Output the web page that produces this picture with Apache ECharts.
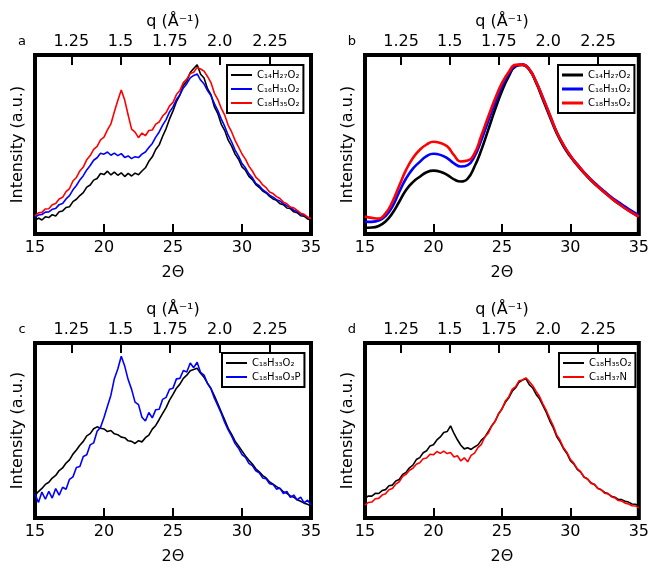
<!DOCTYPE html>
<html>
<head>
<meta charset="utf-8">
<script src="https://cdn.jsdelivr.net/npm/echarts@6/dist/echarts.min.js"></script>
<style>
  html, body { margin: 0; padding: 0; background: #fff; }
  #chart { width: 652px; height: 566px; }
</style>
</head>
<body>
<div id="chart"></div>
<script>
// 2theta sample grids (degrees)
const twoTheta = Array.from({ length: 81 }, (_, i) => 15 + i * 0.25)
const twoThetaB = Array.from({ length: 41 }, (_, i) => 15 + i * 0.5)

// top axis ticks, q in 1/angstrom
const qValues = [1.25, 1.5, 1.75, 2.0, 2.25]
const qLabels = ['1.25', '1.5', '1.75', '2.0', '2.25']
const lambda = 1.5406

// panel a (raw, noisy)
const aC14 = [7.5, 8.9, 7.8, 9.6, 9.2, 10.8, 10.1, 12.4, 12.9, 14.8, 15.2, 18.1, 19.4, 21.5, 23.1, 26.2, 27.4, 30.1, 31.0, 33.8,
  33.2, 35.1, 33.0, 34.6, 32.8, 34.2, 32.1, 33.9, 32.4, 34.0, 33.1, 35.2, 37.0, 40.6, 43.1, 47.2, 49.8, 54.6, 58.9, 64.3,
  68.8, 74.0, 77.6, 83.1, 85.4, 90.2, 92.5, 94.6, 89.3, 87.1, 81.2, 77.9, 71.0, 67.2, 61.3, 57.8, 52.4, 49.1, 44.6, 41.8,
  37.5, 35.6, 32.2, 30.4, 27.6, 26.1, 24.0, 22.9, 21.0, 19.6, 18.8, 16.9, 16.4, 14.5, 14.2, 12.4, 11.9, 10.2, 10.0, 8.4, 7.9]
const aC16 = [9.4, 10.6, 10.9, 12.2, 12.3, 13.8, 14.3, 16.4, 17.0, 19.6, 21.4, 24.7, 27.1, 30.2, 32.6, 35.8, 38.3, 41.2, 42.6, 45.1,
  44.6, 45.8, 44.0, 45.2, 43.8, 44.9, 42.8, 43.6, 42.1, 43.2, 42.7, 44.6, 45.8, 48.3, 50.6, 54.1, 57.0, 60.8, 63.9, 68.2,
  71.0, 75.1, 77.8, 81.6, 84.0, 87.2, 88.6, 89.4, 86.0, 83.8, 80.1, 77.3, 72.8, 69.0, 64.2, 60.1, 55.2, 51.4, 46.9, 43.5,
  39.4, 37.0, 33.6, 31.5, 28.3, 27.0, 24.7, 23.4, 21.7, 20.6, 19.2, 18.4, 17.0, 15.8, 14.9, 13.3, 12.6, 11.2, 10.6, 9.3, 8.8]
const aC18 = [10.2, 11.8, 12.1, 14.0, 14.1, 16.3, 17.0, 19.6, 20.5, 23.7, 25.4, 29.6, 31.6, 35.2, 37.4, 41.5, 43.8, 47.3, 48.9, 52.6,
  54.1, 58.2, 61.5, 68.3, 74.6, 80.4, 74.8, 66.5, 58.6, 56.9, 53.8, 56.4, 54.9, 57.8, 58.1, 61.4, 62.6, 65.9, 67.8, 71.6,
  73.5, 77.9, 80.2, 84.6, 86.5, 89.7, 90.4, 93.1, 92.2, 91.0, 88.0, 84.6, 78.6, 75.1, 70.2, 66.4, 60.7, 57.0, 52.3, 48.6,
  44.7, 41.8, 37.9, 35.2, 31.8, 30.0, 27.4, 25.9, 23.5, 22.6, 20.9, 19.8, 17.8, 16.9, 15.1, 14.6, 13.2, 11.6, 11.0, 9.4, 8.7]

// panel b (smoothed)
const bC14 = [3.5, 3.6, 4.5, 7.0, 11.6, 18.0, 24.6, 29.0, 32.0, 34.5, 35.4, 34.8, 33.0, 30.5, 29.3, 31.0, 37.7, 47.0, 58.2, 69.5,
  79.7, 88.0, 93.7, 94.5, 91.8, 84.5, 75.0, 65.5, 56.3, 49.0, 43.3, 38.5, 34.0, 30.0, 26.5, 23.2, 20.0, 17.0, 14.4, 12.0, 9.7]
const bC16 = [6.9, 6.8, 7.5, 10.0, 15.3, 23.5, 31.0, 36.5, 40.3, 43.5, 44.8, 44.2, 42.4, 39.5, 37.7, 38.5, 43.3, 52.5, 63.0, 73.0,
  82.5, 89.5, 94.0, 94.6, 92.0, 85.0, 76.0, 66.5, 57.0, 49.7, 43.7, 39.0, 34.5, 30.5, 27.0, 23.7, 20.5, 17.8, 15.3, 12.8, 10.6]
const bC18 = [9.7, 9.0, 8.6, 11.5, 18.0, 27.0, 35.8, 42.5, 47.0, 50.0, 51.5, 50.8, 49.0, 44.0, 40.5, 41.0, 45.0, 55.0, 65.5, 75.5,
  84.3, 90.5, 94.5, 94.6, 92.0, 85.0, 76.0, 66.5, 57.0, 49.7, 43.7, 38.8, 34.3, 30.2, 26.5, 23.2, 20.0, 17.0, 14.4, 12.0, 9.7]

// panel c (raw, noisy)
const cC18O2 = [12.8, 15.1, 16.9, 19.2, 20.4, 22.8, 24.3, 27.1, 28.6, 31.4, 33.2, 36.5, 38.9, 41.6, 43.8, 46.9, 48.2, 51.0, 52.1, 51.3,
  50.9, 49.4, 50.0, 48.1, 47.6, 46.2, 45.9, 44.1, 43.8, 42.6, 44.2, 43.5, 45.9, 47.4, 50.8, 52.9, 56.3, 59.8, 63.1, 67.4,
  70.6, 74.2, 76.5, 79.8, 81.6, 84.1, 84.8, 85.6, 82.7, 80.4, 77.1, 74.0, 69.8, 65.3, 60.6, 56.0, 51.2, 47.8, 43.9, 41.2,
  38.3, 35.5, 33.0, 30.9, 28.1, 26.4, 24.2, 22.9, 20.6, 19.3, 17.9, 16.8, 15.0, 14.1, 12.6, 11.9, 10.4, 9.6, 8.5, 7.8, 6.8]
const cC18P = [13.6, 8.9, 14.8, 10.7, 15.2, 11.4, 16.8, 13.1, 17.6, 16.4, 22.1, 23.5, 28.9, 29.4, 35.2, 36.1, 41.8, 42.9, 49.6, 51.8,
  57.4, 63.9, 70.2, 79.6, 85.1, 92.4, 86.8, 79.1, 73.5, 66.2, 64.8, 57.6, 55.4, 60.3, 57.2, 61.9, 62.1, 67.8, 68.9, 73.6,
  74.2, 79.5, 79.8, 84.3, 83.4, 88.6, 85.9, 89.0, 83.2, 81.7, 76.8, 73.9, 68.5, 64.2, 59.7, 54.6, 50.3, 46.8, 42.5, 39.9,
  36.2, 34.6, 31.2, 29.9, 27.0, 25.8, 22.9, 22.4, 19.6, 19.2, 16.5, 17.1, 14.0, 15.2, 11.8, 13.1, 10.3, 11.9, 8.6, 10.2, 7.4]

// panel d (raw, noisy)
const dC18O2 = [11.2, 12.6, 12.5, 14.1, 14.0, 15.7, 16.2, 18.4, 18.8, 21.2, 22.0, 24.9, 26.1, 28.7, 30.2, 33.4, 34.5, 37.3, 38.4, 41.2,
  41.9, 44.6, 46.3, 48.9, 49.4, 52.6, 48.3, 44.7, 41.6, 39.5, 40.1, 39.2, 40.6, 41.8, 44.5, 46.2, 49.4, 52.6, 55.3, 59.4,
  62.3, 66.1, 68.7, 72.4, 74.4, 77.6, 78.8, 79.6, 76.2, 74.3, 70.6, 68.1, 64.2, 60.2, 55.4, 51.6, 46.6, 43.5, 39.6, 36.9,
  32.7, 30.9, 27.8, 26.2, 23.4, 22.3, 20.1, 19.2, 17.0, 16.1, 14.6, 14.0, 12.4, 11.9, 10.6, 10.5, 9.6, 9.1, 8.0, 7.9, 6.8]
const dC18N = [7.4, 8.9, 9.1, 11.0, 11.2, 13.1, 13.8, 16.2, 16.8, 19.4, 20.7, 23.8, 25.0, 27.3, 28.4, 30.7, 31.6, 33.9, 34.3, 36.4,
  36.1, 38.0, 36.9, 38.2, 36.8, 37.4, 34.9, 35.6, 32.6, 34.4, 32.1, 35.8, 37.1, 40.2, 42.1, 46.3, 48.4, 52.5, 55.1, 59.6,
  62.2, 66.8, 69.2, 73.5, 75.1, 78.4, 78.9, 80.1, 78.0, 75.6, 72.3, 69.4, 65.1, 61.3, 56.8, 52.7, 47.5, 44.4, 40.1, 37.5,
  33.5, 31.4, 28.2, 26.5, 23.3, 22.4, 19.8, 19.3, 16.8, 16.2, 14.1, 13.8, 12.2, 11.5, 10.0, 9.7, 8.5, 8.0, 7.0, 6.9, 5.8]

// q -> 2theta position on the bottom scale
const qPos = qValues.map(q => 2 * Math.asin(q * lambda / (4 * Math.PI)) * 180 / Math.PI)

const FONT = 'DejaVu Sans'
const panels = [
  { letter: 'a', x: 35, y: 55, lx: 22, lw: 1.6, legend: [227, 65],
    lines: [['C₁₄H₂₇O₂', '#000000', aC14], ['C₁₆H₃₁O₂', '#0000ff', aC16], ['C₁₈H₃₅O₂', '#ff0000', aC18]] },
  { letter: 'b', x: 365, y: 55, lx: 352, lw: 2.6, smooth: true, legend: [558, 65],
    lines: [['C₁₄H₂₇O₂', '#000000', bC14], ['C₁₆H₃₁O₂', '#0000ff', bC16], ['C₁₈H₃₅O₂', '#ff0000', bC18]] },
  { letter: 'c', x: 35, y: 343, lx: 22, lw: 1.6, legend: [222, 353],
    lines: [['C₁₈H₃₃O₂', '#000000', cC18O2], ['C₁₈H₃₈O₃P', '#0000ff', cC18P]] },
  { letter: 'd', x: 365, y: 343, lx: 352, lw: 1.6, legend: [559, 353],
    lines: [['C₁₈H₃₅O₂', '#000000', dC18O2], ['C₁₈H₃₇N', '#ff0000', dC18N]] }
]

const grid = [], xAxis = [], yAxis = [], series = [], legend = [], graphic = []
panels.forEach((p, i) => {
  grid.push({ left: p.x, top: p.y, width: 276, height: 179, show: true,
    borderColor: '#000', borderWidth: 4, backgroundColor: '#fff' })
  xAxis.push({
    gridIndex: i, type: 'value', min: 15, max: 35, interval: 5, position: 'bottom',
    name: '2Θ', nameLocation: 'middle', nameGap: 31,
    nameTextStyle: { fontSize: 16, color: '#000', fontFamily: FONT },
    axisLine: { show: false }, splitLine: { show: false },
    axisTick: { inside: true, length: 10, lineStyle: { color: '#000', width: 2 } },
    axisLabel: { margin: 6, fontSize: 16, color: '#000', fontFamily: FONT, showMinLabel: true, showMaxLabel: true }
  })
  xAxis.push({
    gridIndex: i, type: 'value', min: 15, max: 35, position: 'top',
    name: 'q (Å⁻¹)', nameLocation: 'middle', nameGap: 25,
    nameTextStyle: { fontSize: 16, color: '#000', fontFamily: FONT },
    axisLine: { show: false }, splitLine: { show: false },
    axisTick: { inside: true, length: 10, customValues: qPos, lineStyle: { color: '#000', width: 2 } },
    axisLabel: {
      margin: 5, fontSize: 16, color: '#000', fontFamily: FONT, customValues: qPos,
      formatter: v => {
        let k = 0
        qPos.forEach((t, j) => { if (Math.abs(t - v) < Math.abs(qPos[k] - v)) k = j })
        return qLabels[k]
      }
    }
  })
  yAxis.push({
    gridIndex: i, type: 'value', min: 0, max: 100,
    name: 'Intensity (a.u.)', nameLocation: 'middle', nameGap: 9,
    nameTextStyle: { fontSize: 16, color: '#000', fontFamily: FONT },
    axisLine: { show: false }, axisTick: { show: false }, axisLabel: { show: false }, splitLine: { show: false }
  })
  p.lines.forEach(([label, color, vals]) => {
    const xs = p.smooth ? twoThetaB : twoTheta
    series.push({
      name: p.letter + ' ' + label, type: 'line', xAxisIndex: 2 * i, yAxisIndex: i,
      symbol: 'none', smooth: !!p.smooth, animation: false,
      lineStyle: { color, width: p.lw }, itemStyle: { color },
      data: vals.map((v, k) => [xs[k], v])
    })
  })
  legend.push({
    left: p.legend[0], top: p.legend[1], orient: 'vertical', selectedMode: false,
    data: p.lines.map(l => p.letter + ' ' + l[0]),
    formatter: n => n.slice(2),
    icon: 'rect', itemWidth: 21, itemHeight: p.smooth ? 3 : 2, itemGap: 2,
    padding: [4, 4, 4, 4], borderColor: '#000', borderWidth: 2, backgroundColor: '#fff',
    textStyle: { fontSize: 10, color: '#000', fontFamily: FONT, lineHeight: 12 }
  })
  graphic.push({
    type: 'text', x: p.lx, y: p.y - 13,
    style: { text: p.letter, font: '13px ' + FONT, fill: '#000',
      align: 'center', verticalAlign: 'middle', textAlign: 'center', textVerticalAlign: 'middle' }
  })
})

const chart = echarts.init(document.getElementById('chart'))
chart.setOption({ backgroundColor: '#fff', animation: false, grid, xAxis, yAxis, series, legend, graphic })
window.addEventListener('resize', () => chart.resize())
</script>
</body>
</html>
